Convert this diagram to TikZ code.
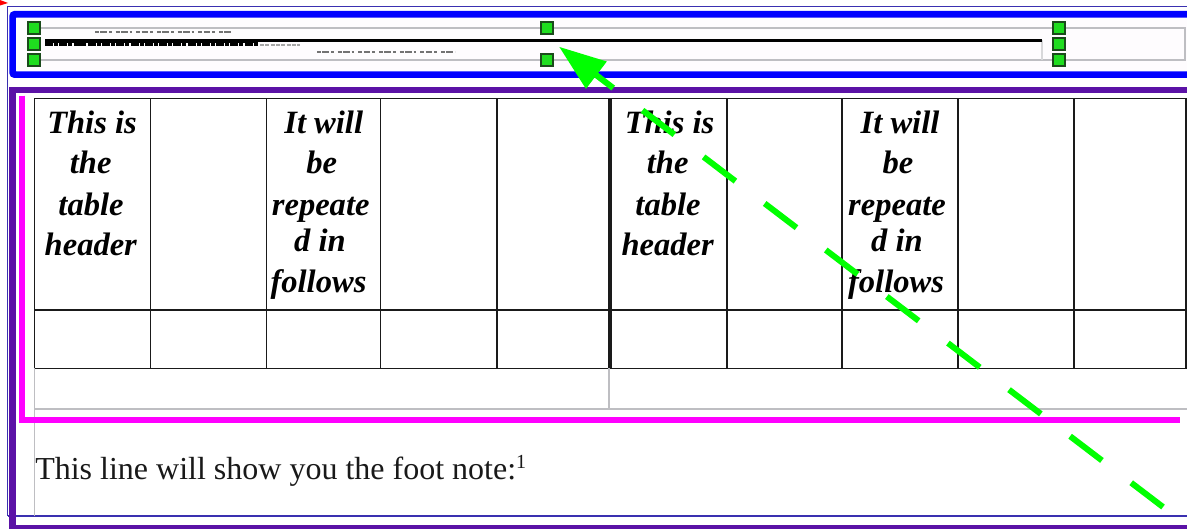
\documentclass[tikz,border=0pt]{standalone}
\usepackage{fontspec}
\setmainfont{Liberation Serif}
\usetikzlibrary{arrows.meta}
\definecolor{purpleframe}{RGB}{91,18,166}
\definecolor{navyline}{RGB}{58,48,176}
\definecolor{cellblack}{RGB}{26,26,26}
\definecolor{greyline}{RGB}{190,190,194}
\definecolor{handlegreen}{RGB}{31,221,31}
\definecolor{handleborder}{RGB}{27,74,27}
\definecolor{pureblue}{RGB}{0,0,255}
\definecolor{puremagenta}{RGB}{255,0,255}
\definecolor{puregreen}{RGB}{0,255,0}
\definecolor{purered}{RGB}{255,0,0}
\definecolor{stripfill}{RGB}{254,252,254}
\tikzset{
  x=0.75pt,y=-0.75pt,
  bluebox/.style={draw=pureblue,line width=5pt,fill=white,rounded corners=1.5pt},
  purplebox/.style={draw=purpleframe,line width=5pt},
  magentaframe/.style={draw=puremagenta,line width=4.8pt},
  hairframe/.style={draw=navyline,line width=0.9pt},
  cellline/.style={draw=cellblack,line width=1.2pt},
  thickcell/.style={draw=cellblack,line width=2.4pt},
  greyrule/.style={draw=greyline,line width=1pt},
  handlebox/.style={draw=handleborder,fill=handlegreen,line width=1.4pt,minimum size=9pt,inner sep=0pt,outer sep=0pt},
  headtext/.style={anchor=base,inner sep=0pt,font=\fontsize{24.4}{24.4}\selectfont\bfseries\itshape,text=black},
  bodytext/.style={anchor=base west,inner sep=0pt,font=\fontsize{24}{24}\selectfont,text=black!90},
  tinyprint/.style={draw=black!55,line width=1.4pt,dash pattern=on 3pt off 1pt on 5pt off 1.5pt on 2pt off 3pt},
  greenarrow/.style={draw=puregreen,line width=4.5pt,dash pattern=on 30pt off 27.6pt,-{Triangle[length=35.25pt,width=24.5pt,fill=puregreen]}}
}
\begin{document}
\begin{tikzpicture}
\useasboundingbox (0,0) rectangle (1187,528);
\clip (0,0) rectangle (1187,528);
\fill[white] (0,0) rectangle (1187,528);
% red mark
\fill[purered] (0,0) -- (8,3) -- (0,5.5) -- cycle;
% thin outer frame
\draw[hairframe] (7.5,516) -- (7.5,6.3) -- (1190,6.3);
\draw[hairframe] (7.5,516) -- (1190,516);
% blue box and strip
\path[bluebox] (1200,14.3) -- (12.7,14.3) -- (12.7,74.6) -- (1200,74.6);
\fill[stripfill] (16,18) rectangle (1187,71);
\draw[greyrule] (40,28) -- (1185,28) -- (1185,60) -- (40,60);
\draw[greyrule,draw=greyline!60] (1042,40) -- (1042,60);
\draw[tinyprint] (95,32) -- (232,32);
\draw[tinyprint] (317,52) -- (455,52);
\draw[draw=black,line width=2.4pt] (45,41) -- (258,41);
\draw[draw=black,line width=3pt,dash pattern=on 6pt off .7pt on 3pt off 1pt] (45,44.5) -- (258,44.5);
\draw[draw=black,line width=2pt] (258,40.5) -- (1042,40.5);
\draw[draw=black!35,line width=1.2pt,dash pattern=on 3pt off 1pt] (260,45) -- (300,45);
% purple frame
\draw[purplebox] (1200,90) -- (12.7,90) -- (12.7,528.5) -- (1200,528.5);
% table
\draw[cellline] (34.3,98.5) -- (1186,98.5) -- (1186,368.3) -- (34.3,368.3) -- cycle;
\draw[cellline] (34.3,310) -- (1186,310);
\foreach \cx in {150.3,266.3,380.3,497,727,841.7,957.7,1074}{
  \draw[cellline] (\cx,98.5) -- (\cx,368.3);
}
\draw[thickcell] (610,98.5) -- (610,368.3);
% lower grey rules
\draw[greyrule] (34.3,368.3) -- (34.3,516);
\draw[greyrule] (609,368.3) -- (609,409);
\draw[greyrule] (34.3,409) -- (1187,409);
% table texts
\node[headtext] (ta) at (92,133) {This is};
\node[headtext] (tb) at (90.7,173) {the};
\node[headtext] (tc) at (91,215) {table};
\node[headtext] (td) at (90.8,255) {header};
\node[headtext] (ua) at (323.7,133) {It will};
\node[headtext] (ub) at (321.7,173) {be};
\node[headtext] (uc) at (320.7,215) {repeate};
\node[headtext] (ud) at (320,251) {d in};
\node[headtext] (ue) at (318.5,292) {follows};
\node[headtext] (va) at (669.5,133) {This is};
\node[headtext] (vb) at (667.7,173) {the};
\node[headtext] (vc) at (668,215) {table};
\node[headtext] (vd) at (667.7,255) {header};
\node[headtext] (wa) at (900,133) {It will};
\node[headtext] (wb) at (898,173) {be};
\node[headtext] (wc) at (897,215) {repeate};
\node[headtext] (wd) at (897,251) {d in};
\node[headtext] (we) at (896,292) {follows};
% footnote line
\node[bodytext] (foot) at (35,479) {This line will show you the foot note:\raisebox{8pt}{\fontsize{15}{15}\selectfont 1}};
% magenta frame
\draw[magentaframe] (22,95.7) -- (22,420) -- (1180,420);
% handles
\node[handlebox] (h1) at (34,28) {};
\node[handlebox] (h2) at (34,44) {};
\node[handlebox] (h3) at (34,60) {};
\node[handlebox] (h4) at (546.7,28) {};
\node[handlebox] (h5) at (546.7,60) {};
\node[handlebox] (h6) at (1059.3,28) {};
\node[handlebox] (h7) at (1059.3,44) {};
\node[handlebox] (h8) at (1059.3,60) {};
% green dashed arrow
\coordinate (arrowstart) at (1163,507);
\coordinate (arrowtip) at (559,46.7);
\draw[greenarrow] (arrowstart) -- (arrowtip);
\end{tikzpicture}
\end{document}
